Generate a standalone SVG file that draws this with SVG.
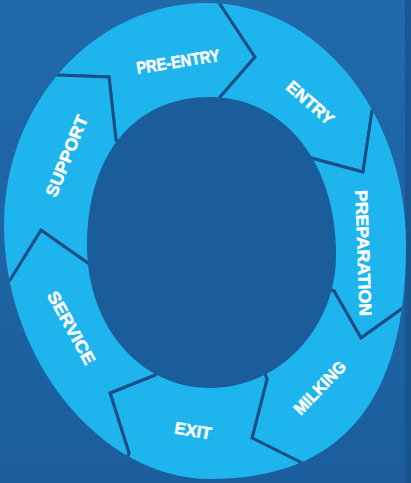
<svg xmlns="http://www.w3.org/2000/svg" width="411" height="483" viewBox="0 0 411 483">
  <style>
    .seg { fill: #1eb5ee; stroke: #1b4e86; stroke-width: 3; stroke-linejoin: miter; }
    .lbl { fill: #ffffff; stroke: #ffffff; stroke-width: 0.5; font-family: "Liberation Sans", Arial, sans-serif; font-weight: bold; font-size: 17px; text-anchor: middle; dominant-baseline: central; }
  </style>
  <defs>
    <linearGradient id="bg" x1="0" y1="0" x2="0" y2="1">
      <stop offset="0" stop-color="#2169a9"/>
      <stop offset="1" stop-color="#1c5e9d"/>
    </linearGradient>
    <clipPath id="ring">
      <path d="M207 3 C316.9 3 406 111.3 406 245 C406 401.8 341.3 479 210 479 C100.8 479 4 359.6 4 225 C4 102.4 94.9 3 207 3 Z"/>
    </clipPath>
  </defs>

  <rect width="411" height="483" fill="url(#bg)"/>
  <rect x="405" y="0" width="6" height="483" fill="#184c82" opacity="0.6"/>

  <g id="ring-nodes" clip-path="url(#ring)">
    <g id="node-pre-entry">
      <path class="seg" d="M-18.5 -8.5 L57 75 L109 77 L116 140 L208 242 L220 97 L255 57 L220 4 L226 -115 Z"/>
      <text class="lbl" x="178" y="62" textLength="84" lengthAdjust="spacingAndGlyphs" transform="rotate(-9 178 62)">PRE-ENTRY</text>
    </g>
    <g id="node-entry">
      <path class="seg" d="M226 -115 L220 4 L255 57 L220 97 L208 242 L311 158 L363 172 L372 111 L454 45.5 Z"/>
      <text class="lbl" x="310" y="103" textLength="57" lengthAdjust="spacingAndGlyphs" transform="rotate(41 310 103)">ENTRY</text>
    </g>
    <g id="node-preparation">
      <path class="seg" d="M454 45.5 L372 111 L363 172 L311 158 L208 242 L334 291 L361 338 L403 308 L500.5 341 Z"/>
      <text class="lbl" x="363" y="253" textLength="126" lengthAdjust="spacingAndGlyphs" transform="rotate(88 363 253)">PREPARATION</text>
    </g>
    <g id="node-milking">
      <path class="seg" d="M500.5 341 L403 308 L361 338 L334 291 L208 242 L267 379 L252 438 L302 463 L349 573.5 Z"/>
      <text class="lbl" x="320" y="388" textLength="67" lengthAdjust="spacingAndGlyphs" transform="rotate(-46 320 388)">MILKING</text>
    </g>
    <g id="node-exit">
      <path class="seg" d="M349 573.5 L302 463 L252 438 L267 379 L208 242 L155 375 L110 393 L129 453 L89.5 558.5 Z"/>
      <text class="lbl" x="193" y="431" textLength="37" lengthAdjust="spacingAndGlyphs" transform="rotate(10 193 431)">EXIT</text>
    </g>
    <g id="node-service">
      <path class="seg" d="M89.5 558.5 L129 453 L110 393 L155 375 L208 242 L88 263 L41 230 L10 280 L-89 299 Z"/>
      <text class="lbl" x="71" y="328" textLength="81" lengthAdjust="spacingAndGlyphs" transform="rotate(61 71 328)">SERVICE</text>
    </g>
    <g id="node-support">
      <path class="seg" d="M-89 299 L10 280 L41 230 L88 263 L208 242 L116 140 L109 77 L57 75 L-18.5 -8.5 Z"/>
      <text class="lbl" x="67" y="156" textLength="86" lengthAdjust="spacingAndGlyphs" transform="rotate(-68 67 156)">SUPPORT</text>
    </g>
  </g>

  <g id="connectors"/>

  <path id="hub" fill="#1b5c9a" d="M209 97 C283.9 97 336 161.8 336 255 C336 328.2 279.3 388 210 388 C139.9 388 87 326.5 87 245 C87 154.7 134.6 97 209 97 Z"/>
</svg>
